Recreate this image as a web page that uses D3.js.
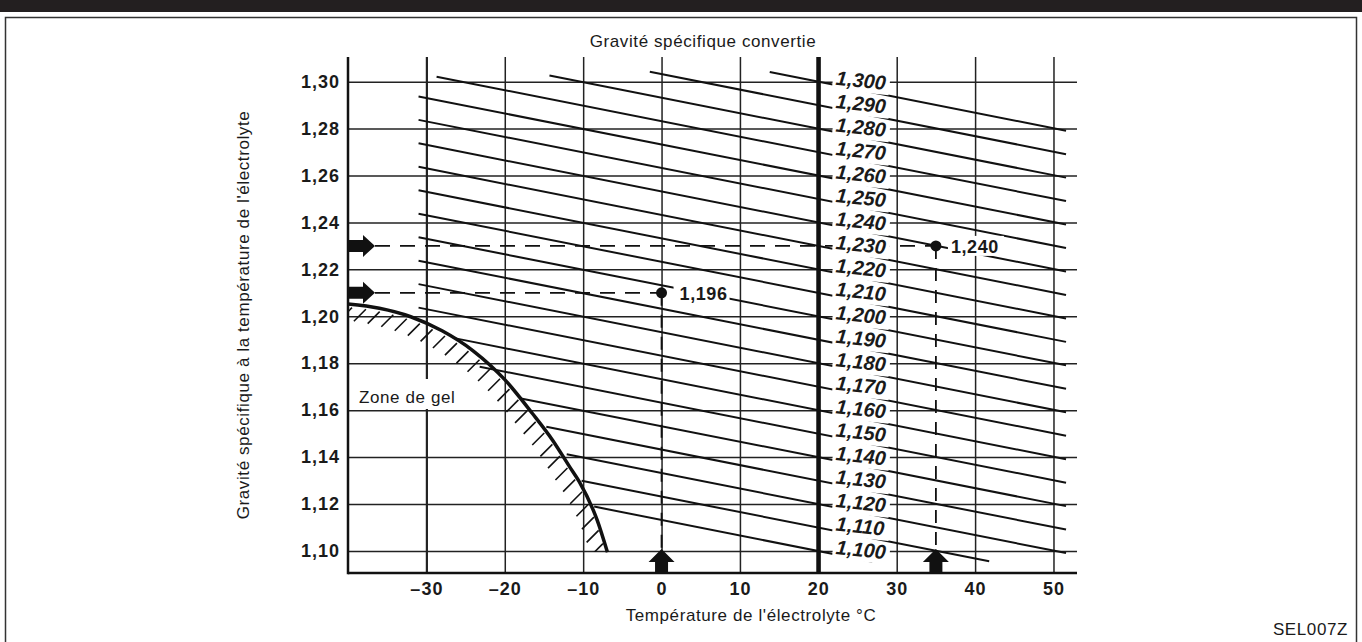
<!DOCTYPE html>
<html>
<head>
<meta charset="utf-8">
<script src="https://cdn.jsdelivr.net/npm/d3@7"></script>
<style>
body { margin: 0; background: #fff; }
text { font-family: "Liberation Sans", Arial, sans-serif; fill: #1a1a1a; }
</style>
</head>
<body>
<script>
// axis ticks
var tempTicks = [-30, -20, -10, 0, 10, 20, 30, 40, 50];
var sgTicks = [1.10, 1.12, 1.14, 1.16, 1.18, 1.20, 1.22, 1.24, 1.26, 1.28, 1.30];

// converted gravity lines (value at 20 °C), with their end points
var isoValues  = [1.300, 1.290, 1.280, 1.270, 1.260, 1.250, 1.240, 1.230, 1.220, 1.210, 1.200,
                  1.190, 1.180, 1.170, 1.160, 1.150, 1.140, 1.130, 1.120, 1.110, 1.100];
var isoStartT  = [13.8, -1.5, -14.3, -28.7, -31, -31, -31, -31, -31, -31, -31,
                  -31, -31, -31, -26.6, -23.2, -18.1, -14.7, -12.1, -10.2, -8.6];
var isoStartSG = [1.3041, 1.3042, 1.3026, 1.3021, 1.2937, 1.2837, 1.2737, 1.2637, 1.2537, 1.2437, 1.2337,
                  1.2237, 1.2137, 1.2037, 1.1908, 1.1785, 1.1651, 1.1529, 1.1412, 1.1299, 1.1189];
var isoEndT    = [51.6, 51.6, 51.6, 51.6, 51.6, 51.6, 51.6, 51.6, 51.6, 51.6, 51.6,
                  51.6, 51.6, 51.6, 51.6, 51.6, 51.6, 51.6, 51.6, 41.8, 26.9];
var isoEndSG   = [1.2791, 1.2691, 1.2591, 1.2491, 1.2391, 1.2291, 1.2191, 1.2091, 1.1991, 1.1891, 1.1791,
                  1.1691, 1.1591, 1.1491, 1.1391, 1.1291, 1.1191, 1.1091, 1.0991, 1.0956, 1.0954];

// freezing limit
var freezeT  = [-40, -36, -32, -28, -24, -20, -16.5, -13.9, -11.7, -10.5, -8.2, -6.9];
var freezeSG = [1.2052, 1.2034, 1.1998, 1.1938, 1.1852, 1.1730, 1.1587, 1.1472, 1.1357, 1.1295, 1.1130, 1.0994];

// two example readings
var readT = [0, 35];
var readSG = [1.21, 1.23];
var readConverted = ["1,196", "1,240"];

var W = 1362, H = 642;
var svg = d3.select("body").append("svg").attr("width", W).attr("height", H);

var x = d3.scaleLinear().domain([-40, 53]).range([348, 1077]);
var y = d3.scaleLinear().domain([1.0906, 1.3105]).range([573, 57]);
var pLeft = x.range()[0], pRight = x.range()[1], pTop = y.range()[1], pBottom = y.range()[0];

function fr(f) { return function(v) { return d3.format(f)(v).replace(".", ","); }; }

// page band + frame
svg.append("rect").attr("x", 0).attr("y", 0).attr("width", W).attr("height", 12).style("fill", "#231f20");
svg.append("rect").attr("x", 5.5).attr("y", 17.5).attr("width", 1351).attr("height", 640)
	.style("fill", "none").style("stroke", "#333").style("stroke-width", 1.5);

// grid via axes
var gy = svg.append("g").attr("transform", "translate(" + pLeft + ",0)")
	.call(d3.axisLeft(y).tickValues(sgTicks).tickSize(-(pRight - pLeft)).tickSizeOuter(0)
		.tickPadding(8).tickFormat(fr(".2f")));
gy.select(".domain").remove();
gy.selectAll(".tick line").style("stroke", "#222").style("stroke-width", 1.5);
gy.selectAll(".tick text").style("font-size", "18px").style("font-weight", "bold")
	.style("letter-spacing", "1px").style("fill", "#1a1a1a").attr("font-family", null);

var gx = svg.append("g").attr("transform", "translate(0," + pBottom + ")")
	.call(d3.axisBottom(x).tickValues(tempTicks).tickSize(-(pBottom - pTop)).tickSizeOuter(0)
		.tickPadding(9).tickFormat(function(d) { return d < 0 ? "\u2013" + Math.abs(d) : d; }));
gx.select(".domain").remove();
gx.selectAll(".tick line").style("stroke", "#222")
	.style("stroke-width", function(d) { return d == 20 ? 4 : (d == -30 ? 2.2 : 1.5); });
gx.selectAll(".tick text").style("font-size", "18px").style("font-weight", "bold")
	.style("letter-spacing", "1px").style("fill", "#1a1a1a").attr("font-family", null);

// converted gravity lines
svg.append("g").attr("id", "iso")
	.selectAll("line")
	.data(isoValues)
	.enter()
	.append("line")
	.attr("x1", function(d, i) { return x(isoStartT[i]); })
	.attr("y1", function(d, i) { return y(isoStartSG[i]); })
	.attr("x2", function(d, i) { return x(isoEndT[i]); })
	.attr("y2", function(d, i) { return y(isoEndSG[i]); })
	.style("stroke", "#111").style("stroke-width", 2);

// dashed reading lines
var arrowTipX = pLeft + 27, arrowTipY = pBottom - 24;
svg.append("g").selectAll("line")
	.data(readT).enter().append("line")
	.attr("x1", arrowTipX).attr("x2", function(d) { return x(d); })
	.attr("y1", function(d, i) { return y(readSG[i]); })
	.attr("y2", function(d, i) { return y(readSG[i]); })
	.style("stroke", "#111").style("stroke-width", 1.8).style("stroke-dasharray", "15,10");
svg.append("g").selectAll("line")
	.data(readT).enter().append("line")
	.attr("x1", function(d) { return x(d); }).attr("x2", function(d) { return x(d); })
	.attr("y1", function(d, i) { return y(readSG[i]); })
	.attr("y2", arrowTipY)
	.style("stroke", "#111").style("stroke-width", 1.8).style("stroke-dasharray", "13,9");

// freezing curve + hatching
svg.append("clipPath").attr("id", "plotclip").append("rect")
	.attr("x", pLeft + 1).attr("y", pTop).attr("width", pRight - pLeft).attr("height", y(1.10) - pTop + 1);
var line = d3.line().x(function(d) { return x(d[0]); }).y(function(d) { return y(d[1]); }).curve(d3.curveMonotoneX);
var fpts = freezeT.map(function(t, i) { return [t, freezeSG[i]]; });
var fpath = svg.append("path").attr("d", line(fpts))
	.style("fill", "none").style("stroke", "#111").style("stroke-width", 3.5);
var node = fpath.node(), L = node.getTotalLength();
var hatch = [];
for (var s = 5; s < L; s += 14) hatch.push(node.getPointAtLength(s));
svg.append("g").attr("clip-path", "url(#plotclip)")
	.selectAll("line").data(hatch).enter().append("line")
	.attr("x1", function(p) { return p.x - 13; }).attr("y1", function(p) { return p.y + 15; })
	.attr("x2", function(p) { return p.x - 1; }).attr("y2", function(p) { return p.y + 3; })
	.style("stroke", "#111").style("stroke-width", 1.6);

// labels for the converted lines
var lab = svg.append("g").selectAll("g")
	.data(isoValues).enter().append("g")
	.attr("transform", function(d) { return "translate(" + (x(20) + 17) + "," + (y(d) + 3) + ") rotate(6)"; });
lab.append("rect").attr("x", -3).attr("y", -15).attr("width", 57).attr("height", 20).style("fill", "#fff");
lab.append("text").text(fr(".3f"))
	.style("font-size", "20px").style("font-weight", "bold").style("font-style", "italic");

// thick 20 °C line over masks
svg.append("line").attr("x1", x(20)).attr("x2", x(20)).attr("y1", pTop).attr("y2", pBottom)
	.style("stroke", "#111").style("stroke-width", 4);

// axis lines
svg.append("line").attr("x1", pLeft).attr("x2", pLeft).attr("y1", pTop).attr("y2", pBottom + 1.2)
	.style("stroke", "#111").style("stroke-width", 2.5);
svg.append("line").attr("x1", pLeft).attr("x2", pRight).attr("y1", pBottom).attr("y2", pBottom)
	.style("stroke", "#111").style("stroke-width", 2.5);

// readings: dots, labels, arrows
var rd = svg.append("g").selectAll("g").data(readT).enter().append("g");
rd.append("rect")
	.attr("x", function(d) { return x(d) + 12; })
	.attr("y", function(d, i) { return y(readSG[i]) - 10; })
	.attr("width", 56).attr("height", 20).style("fill", "#fff");
rd.append("circle")
	.attr("cx", function(d) { return x(d); })
	.attr("cy", function(d, i) { return y(readSG[i]); })
	.attr("r", 5.5).style("fill", "#111");
rd.append("text")
	.attr("x", function(d, i) { return x(d) + (i == 0 ? 18 : 15); })
	.attr("y", function(d, i) { return y(readSG[i]) + 7; })
	.text(function(d, i) { return readConverted[i]; })
	.style("font-size", "18px").style("font-weight", "bold").style("letter-spacing", "0.6px");
rd.append("path")
	.attr("d", function(d, i) {
		var c = y(readSG[i]);
		return "M" + pLeft + "," + (c - 6) + "L" + (pLeft + 15) + "," + (c - 6) + "L" + (pLeft + 15) + "," + (c - 11) +
			"L" + arrowTipX + "," + c + "L" + (pLeft + 15) + "," + (c + 11) + "L" + (pLeft + 15) + "," + (c + 6) +
			"L" + pLeft + "," + (c + 6) + "Z";
	}).style("fill", "#111");
rd.append("path")
	.attr("d", function(d) {
		var c = x(d);
		return "M" + (c - 6.5) + "," + pBottom + "L" + (c - 6.5) + "," + (pBottom - 11) + "L" + (c - 13) + "," + (pBottom - 11) +
			"L" + c + "," + arrowTipY + "L" + (c + 13) + "," + (pBottom - 11) + "L" + (c + 6.5) + "," + (pBottom - 11) +
			"L" + (c + 6.5) + "," + pBottom + "Z";
	}).style("fill", "#111");

// freezing zone label
svg.append("rect").attr("x", 356).attr("y", 379).attr("width", 104).attr("height", 30).style("fill", "#fff");
svg.append("text").attr("x", 359).attr("y", 403).text("Zone de gel")
	.style("font-size", "17px").style("letter-spacing", "0.6px");

// titles
svg.append("text").attr("x", 703).attr("y", 47).attr("text-anchor", "middle")
	.text("Gravité spécifique convertie").style("font-size", "17px").style("letter-spacing", "0.6px");
svg.append("text").attr("x", 751).attr("y", 621).attr("text-anchor", "middle")
	.text("Température de l'électrolyte °C").style("font-size", "17px").style("letter-spacing", "0.6px");
svg.append("text").attr("transform", "translate(249,315) rotate(-90)").attr("text-anchor", "middle")
	.text("Gravité spécifique à la température de l'électrolyte").style("font-size", "17px").style("letter-spacing", "0.6px");
svg.append("text").attr("x", 1348).attr("y", 635).attr("text-anchor", "end")
	.text("SEL007Z").style("font-size", "17px").style("letter-spacing", "0.6px");
</script>
</body>
</html>
